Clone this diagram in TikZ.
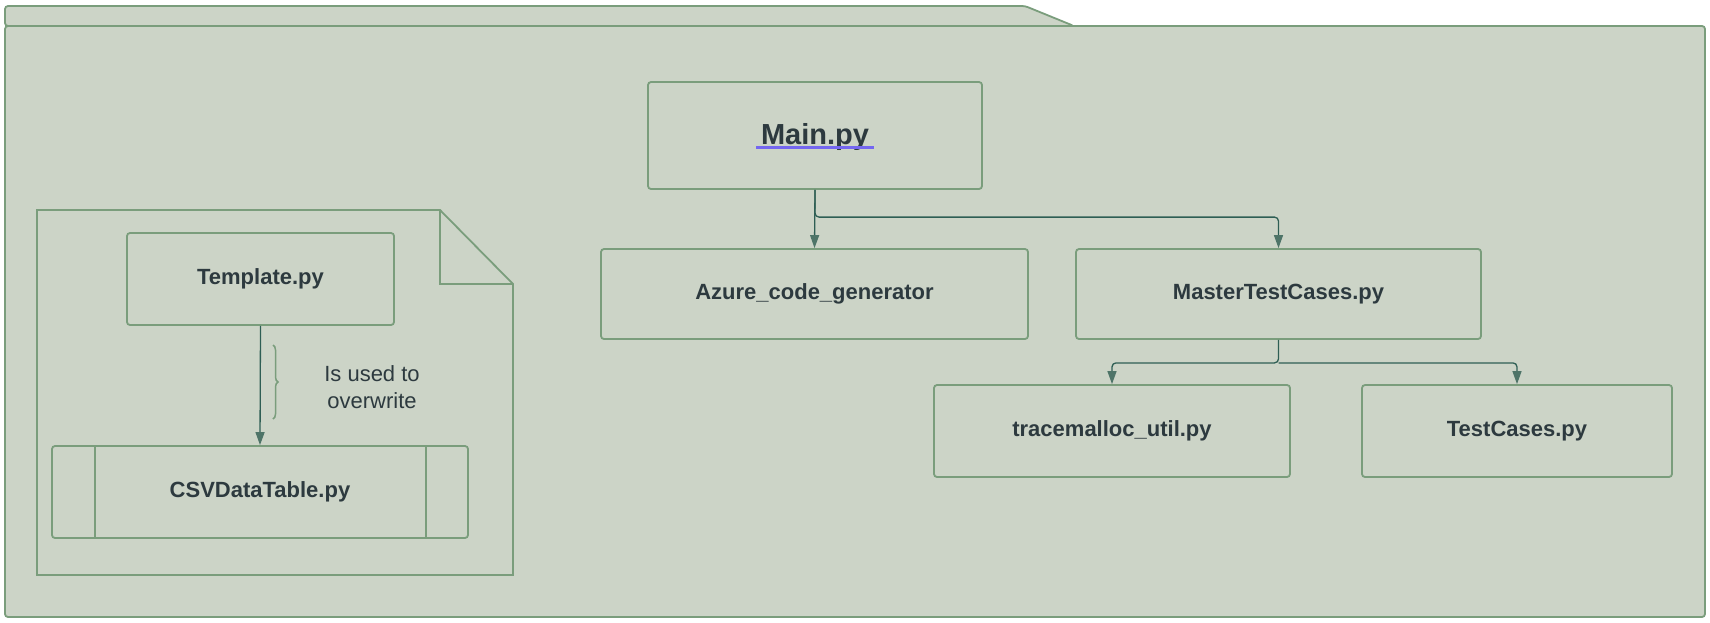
\documentclass[tikz,border=0pt]{standalone}
\usepackage{fontspec}
\setmainfont{Liberation Sans}
\usetikzlibrary{arrows.meta,decorations.pathreplacing}
\definecolor{bgfill}{HTML}{CCD4C7}
\definecolor{edge}{HTML}{7A9D7C}
\definecolor{wire}{HTML}{2E5E54}
\definecolor{tip}{HTML}{4E7468}
\definecolor{txt}{HTML}{2D3A3F}
\definecolor{ulink}{HTML}{7466F0}
\tikzset{
  box/.style={draw=edge, line width=1.8pt, fill=bgfill, rounded corners=3pt, inner sep=0pt,
    text=txt, font=\fontsize{22}{26}\selectfont\bfseries},
  conn/.style={draw=wire, line width=1.3pt, rounded corners=4pt, -{Triangle[length=13pt,width=9pt,fill=tip,color=tip]}},
}
\begin{document}
\begin{tikzpicture}[x=1pt,y=-1pt]
\useasboundingbox (0,0) rectangle (1710,622);
% folder
\draw[draw=edge, line width=1.8pt, fill=bgfill, rounded corners=3pt] (5,26) -- (5,6) -- (1025,6) -- (1074,26) -- cycle;
\draw[draw=edge, line width=1.8pt, fill=bgfill, rounded corners=3pt] (5,26) rectangle (1705,617);
% document shape
\draw[draw=edge, line width=1.8pt] (37,210) -- (440,210) -- (513,284) -- (513,575) -- (37,575) -- cycle;
\draw[draw=edge, line width=1.8pt] (440,210) -- (440,284) -- (513,284);
% boxes
\node[box, minimum width=334pt, minimum height=107pt] (main) at (815,135.5) {};
\node[text=txt, font=\fontsize{29}{34}\selectfont\bfseries] (maint) at (815,137) {Main.py};
\draw[ulink, line width=2.2pt] ([xshift=-1pt,yshift=-3pt]maint.base west) -- ([xshift=1pt,yshift=-3pt]maint.base east);
\node[box, minimum width=427pt, minimum height=90pt] (azure) at (814.5,294) {Azure\_code\_generator};
\node[box, minimum width=405pt, minimum height=90pt] (master) at (1278.5,294) {MasterTestCases.py};
\node[box, minimum width=356pt, minimum height=92pt] (trace) at (1112,431) {tracemalloc\_util.py};
\node[box, minimum width=310pt, minimum height=92pt] (tests) at (1517,431) {TestCases.py};
\node[box, minimum width=267pt, minimum height=92pt] (tmpl) at (260.5,279) {Template.py};
\node[box, minimum width=416pt, minimum height=92pt] (csv) at (260,492) {CSVDataTable.py};
\draw[edge, line width=1.8pt] ([xshift=-165pt]csv.north) -- ([xshift=-165pt]csv.south);
\draw[edge, line width=1.8pt] ([xshift=166pt]csv.north) -- ([xshift=166pt]csv.south);
% connectors
\draw[conn] (main.south) -- (azure.north);
\draw[conn] (main.south) |- ([yshift=31pt]master.north) -- (master.north);
\coordinate (split) at ([yshift=-23pt]master.south);
\draw[conn] (master.south) -- (split) -| (trace.north);
\draw[conn] (split) -| (tests.north);
\draw[conn] (tmpl.south) -- (csv.north);
% brace and label
\draw[edge, line width=1.5pt, decorate, decoration={brace, amplitude=5pt}] (273,345) -- (273,419);
\node[text=txt, font=\fontsize{22}{27}\selectfont, align=center] (note) at (372,387) {Is used to\\overwrite};
\end{tikzpicture}
\end{document}
